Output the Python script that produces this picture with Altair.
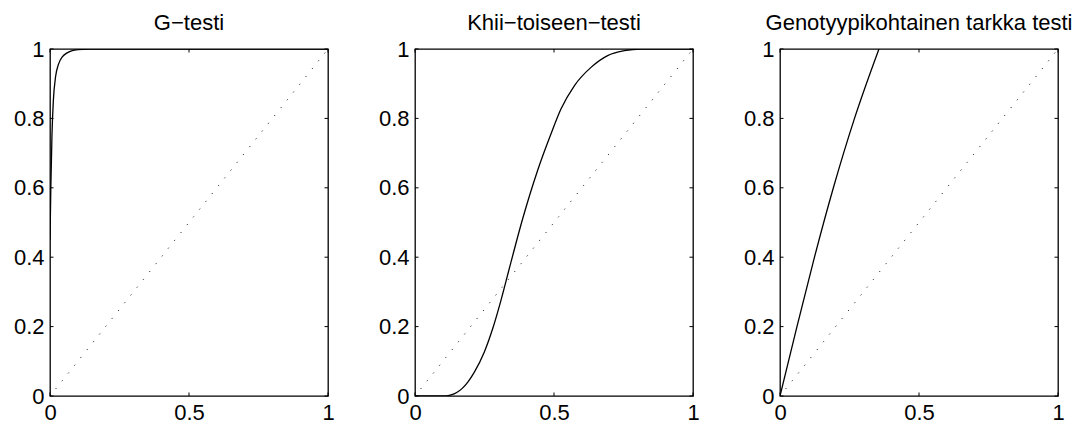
import altair as alt
import pandas as pd

titles = ["G−testi", "Khii−toiseen−testi", "Genotyypikohtainen tarkka testi"]

g_x = [0, 0.003, 0.007, 0.012, 0.02, 0.03, 0.045, 0.06, 0.08, 0.1, 0.14, 1.0]
g_y = [0.45, 0.6, 0.75, 0.85, 0.92, 0.955, 0.978, 0.988, 0.995, 0.998, 1.0, 1.0]

k_x = [0, 0.11, 0.13, 0.15, 0.17, 0.19, 0.213, 0.249, 0.279, 0.309, 0.345, 0.387, 0.441,
       0.489, 0.525, 0.573, 0.633, 0.693, 0.753, 0.813, 1.0]
k_y = [0, 0, 0.003, 0.01, 0.022, 0.04, 0.068, 0.126, 0.193, 0.275, 0.385, 0.51, 0.65,
       0.755, 0.827, 0.894, 0.947, 0.981, 0.995, 1.0, 1.0]

e_x = [0, 0.061, 0.124, 0.192, 0.268, 0.356]
e_y = [0, 0.2, 0.4, 0.6, 0.8, 1.0]

diag = [0, 1]
x_ticks = [0, 0.5, 1]
y_ticks = [0, 0.2, 0.4, 0.6, 0.8, 1]

W, H = 278, 347
TL = 3.5
FONT = "Liberation Sans"


def panel(title, cx, cy):
    xs = alt.Scale(domain=[0, 1], nice=False, zero=False)
    ys = alt.Scale(domain=[0, 1], nice=False, zero=False)
    ax = alt.Axis(values=x_ticks, format="~g", tickSize=0, domain=False, grid=False,
                  labelPadding=6, labelFontSize=22, labelFont=FONT, labelColor="black",
                  labelFlush=False, labelOverlap=False)
    ay = alt.Axis(values=y_ticks, format="~g", tickSize=0, domain=False, grid=False,
                  labelPadding=6, labelFontSize=22, labelFont=FONT, labelColor="black",
                  labelFlush=False, labelOverlap=False)
    X = alt.X("x:Q", scale=xs, axis=ax, title=None)
    Y = alt.Y("y:Q", scale=ys, axis=ay, title=None)

    curve_df = pd.DataFrame({"x": cx, "y": cy})
    diag_df = pd.DataFrame({"x": diag, "y": diag})
    xt_df = pd.DataFrame({"x": x_ticks})
    yt_df = pd.DataFrame({"y": y_ticks})

    dline = alt.Chart(diag_df).mark_line(
        color="black", strokeWidth=1, strokeDash=[1, 9], strokeDashOffset=1, clip=True
    ).encode(x=X, y=Y)
    curve = alt.Chart(curve_df).mark_line(
        color="black", strokeWidth=1.3, interpolate="monotone", clip=True
    ).encode(x=X, y=Y)
    xb = alt.Chart(xt_df).mark_rule(color="black", strokeWidth=1).encode(
        x=X, y=alt.value(H), y2=alt.value(H - TL))
    xtop = alt.Chart(xt_df).mark_rule(color="black", strokeWidth=1).encode(
        x=X, y=alt.value(0), y2=alt.value(TL))
    yl = alt.Chart(yt_df).mark_rule(color="black", strokeWidth=1).encode(
        y=Y, x=alt.value(0), x2=alt.value(TL))
    yr = alt.Chart(yt_df).mark_rule(color="black", strokeWidth=1).encode(
        y=Y, x=alt.value(W - TL), x2=alt.value(W))

    return alt.layer(dline, curve, xb, xtop, yl, yr).properties(
        width=W, height=H,
        title=alt.TitleParams(title, fontSize=22, font=FONT, fontWeight="normal",
                              color="black", offset=3),
    )


chart = alt.hconcat(
    panel(titles[0], g_x, g_y),
    panel(titles[1], k_x, k_y),
    panel(titles[2], e_x, e_y),
    spacing=87,
    bounds="flush",
).properties(
    padding={"left": 12, "top": 11, "right": 5, "bottom": 0},
    background="white",
).configure_view(stroke="black", strokeWidth=1.3)

chart.save("out.html", embed_options={"renderer": "svg", "actions": False})
